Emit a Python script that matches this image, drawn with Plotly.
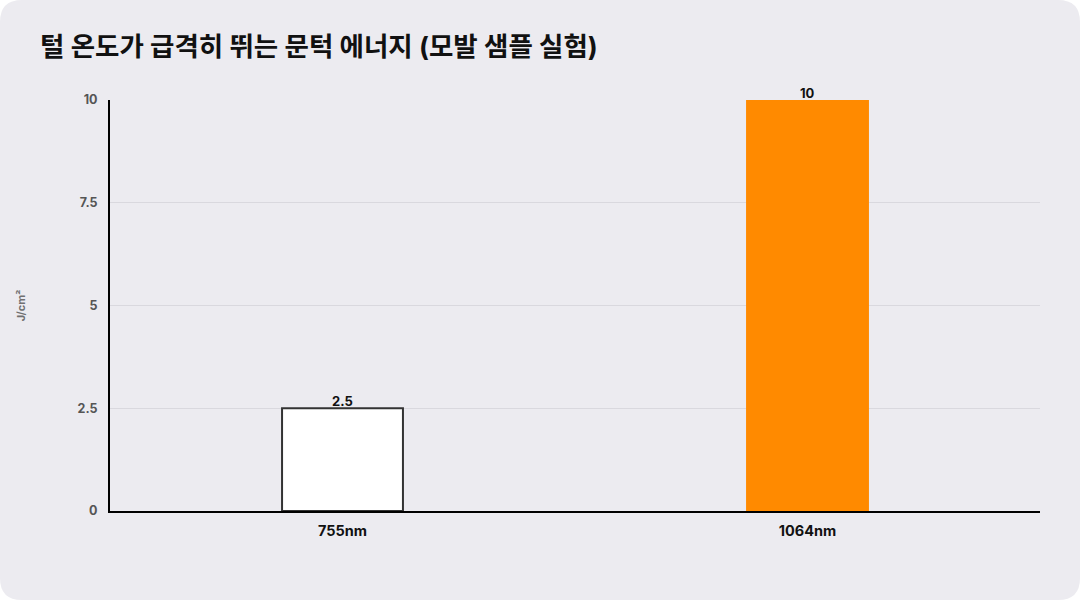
import plotly.graph_objects as go

# data ------------------------------------------------------------------------
wavelengths = ["755nm", "1064nm"]
energy = [2.5, 10]
labels = ["2.5", "10"]
y_ticks = [0, 2.5, 5, 7.5, 10]
y_tick_text = ["0", "2.5", "5", "7.5", "10"]

TITLE = "털 온도가 급격히 뛰는 문턱 에너지 (모발 샘플 실험)"
FONT = "Inter, Noto Sans CJK KR"
BG = "#ECEBF0"

# plot area in pixels
(W, H, L, R, T, B) = (1080, 600, 110, 40, 100, 89)
pw, ph = W - L - R, H - T - B

fig = go.Figure()
fig.add_trace(go.Bar(
    x=wavelengths, y=energy,
    marker=dict(color=["#FFFFFF", "#FF8A00"],
                line=dict(color=["#333333", "#FF8A00"], width=2)),
    showlegend=False, hoverinfo="x+y",
))
# value labels sitting right on top of each bar
for (cat, val, lab) in zip(wavelengths, energy, labels):
    fig.add_annotation(
        x=cat, y=val, text=lab, showarrow=False, yanchor="bottom", yshift=-3,
        font=dict(family=FONT, size=13, color="#111111", weight="bold"),
    )

# rounded card behind everything
x0, x1 = -L / pw, 1 + R / pw
y0, y1 = -B / ph, 1 + T / ph
rx, ry = 22 / pw, 22 / ph
card = (f"M {x0+rx},{y0} L {x1-rx},{y0} Q {x1},{y0} {x1},{y0+ry} "
        f"L {x1},{y1-ry} Q {x1},{y1} {x1-rx},{y1} L {x0+rx},{y1} "
        f"Q {x0},{y1} {x0},{y1-ry} L {x0},{y0+ry} Q {x0},{y0} {x0+rx},{y0} Z")

fig.update_layout(
    width=W, height=H,
    margin=dict(l=L, r=R, t=T, b=B),
    paper_bgcolor="#FFFFFF", plot_bgcolor=BG,
    bargap=0.74,
    font=dict(family=FONT),
    shapes=[dict(type="path", path=card, xref="paper", yref="paper",
                 fillcolor=BG, line=dict(width=0), layer="below")],
    title=dict(text=TITLE, x=40 / W, xanchor="left", y=1 - 47 / H, yanchor="middle",
               font=dict(family=FONT, size=26.5, color="#111111", weight="bold")),
    xaxis=dict(showline=True, linecolor="#000000", linewidth=2,
               tickfont=dict(family=FONT, size=14.5, color="#111111", weight="bold"),
               ticks="", showgrid=False, ticklabelstandoff=6),
    yaxis=dict(range=[0, 10], tickvals=y_ticks, ticktext=y_tick_text,
               showline=True, linecolor="#000000", linewidth=2,
               gridcolor="#D9D8DE", gridwidth=1, zeroline=False,
               tickfont=dict(family=FONT, size=12.5, color="#555555", weight="bold"),
               ticks="", ticklabelstandoff=8,
               title=dict(text="J/cm²", standoff=50,
                          font=dict(family=FONT, size=11, color="#707070", weight="bold"))),
)

# the page adds an 8px body margin by default; drop it so the card fills the window
fig.write_html("out.html", config=dict(displayModeBar=False),
               post_script="document.body.style.margin='0';")
